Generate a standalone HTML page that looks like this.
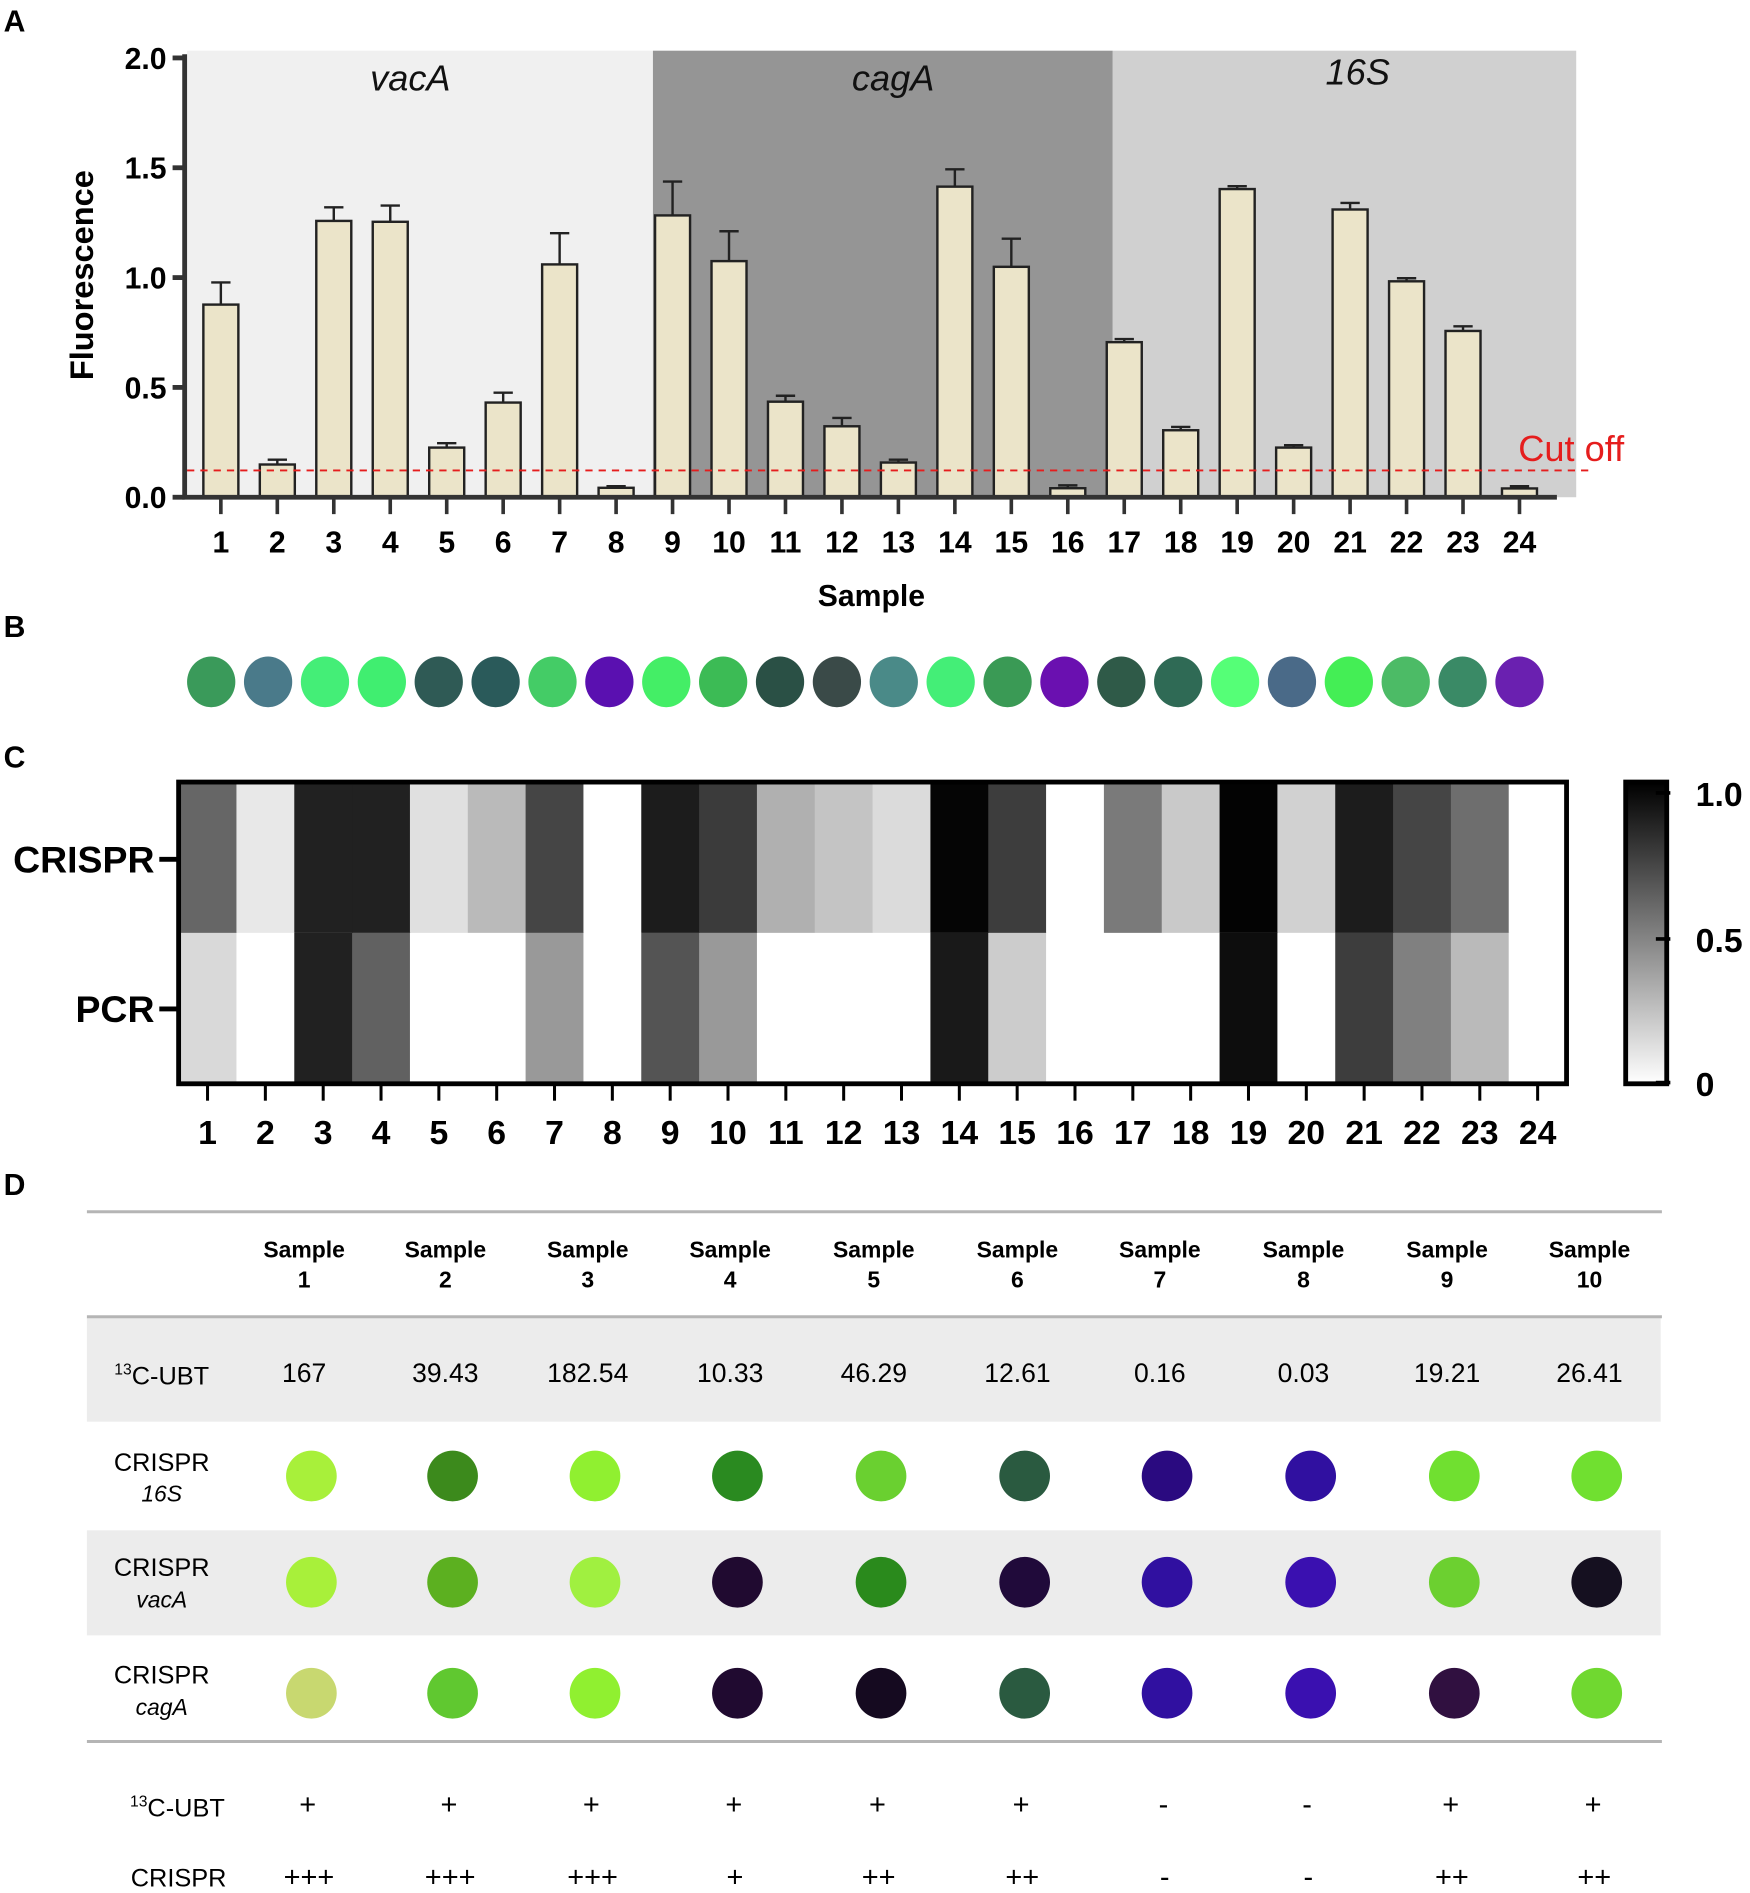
<!DOCTYPE html>
<html><head><meta charset="utf-8"><style>
html,body{margin:0;padding:0;background:#fff;}
svg{display:block;font-family:"Liberation Sans",Arial,sans-serif;}
</style></head><body>
<svg id="fig" width="1750" height="1893" viewBox="0 0 1450 1568.5" preserveAspectRatio="none">
<g id="panelA"></g>
<g id="panelB"></g>
<g id="panelC"></g>
<g id="panelD"></g>
</svg>
<script>
const samples = ["1","2","3","4","5","6","7","8","9","10","11","12","13","14","15","16","17","18","19","20","21","22","23","24"];
const fluorescence = [0.877,0.149,1.258,1.254,0.226,0.431,1.06,0.043,1.283,1.075,0.435,0.323,0.158,1.414,1.049,0.041,0.706,0.305,1.403,0.226,1.31,0.983,0.757,0.04];
const errorTop = [0.978,0.171,1.32,1.328,0.246,0.476,1.202,0.05,1.437,1.211,0.462,0.361,0.171,1.493,1.177,0.054,0.72,0.32,1.416,0.237,1.34,0.997,0.778,0.05];
const cutoff = 0.122;
const yTicks = [0,0.5,1.0,1.5,2.0];
const yTickLabels = ["0.0","0.5","1.0","1.5","2.0"];
const genes = ["vacA","cagA","16S"];
const crisprHeat = [0.6,0.09,0.87,0.87,0.12,0.27,0.73,0,0.89,0.77,0.31,0.23,0.14,0.98,0.76,0,0.52,0.21,0.99,0.18,0.89,0.73,0.57,0];
const pcrHeat = [0.15,0,0.87,0.62,0,0,0.4,0,0.67,0.4,0,0,0,0.9,0.2,0,0,0,0.95,0,0.76,0.5,0.27,0];
const dotColorsB = ["#3a9a5a","#4a7a8a","#44ee77","#40ee70","#2f5a55","#2a5a5a","#44cc66","#5a10b0","#44ee66","#3cbb55","#2a5045","#3a4a48","#4a8a88","#44ee77","#3a9a55","#6a10b0","#2f5a48","#2f6a55","#55ff77","#4a6a88","#44ee55","#4cbb66","#3a8a66","#6a20b0"];
const tableSamples = ["1","2","3","4","5","6","7","8","9","10"];
const ubtValues = ["167","39.43","182.54","10.33","46.29","12.61","0.16","0.03","19.21","26.41"];
const dots16S = ["#a8f03a","#3c8a1c","#90f030","#2a8a20","#6ad030","#2a5a40","#2a0a80","#3010a0","#70e030","#70e030"];
const dotsVacA = ["#a8f03a","#5cb020","#a0f040","#200a30","#2a8a1c","#200a3a","#3010a0","#3a10b0","#6cd030","#151020"];
const dotsCagA = ["#c8d870","#60c830","#90f030","#200a30","#150a20","#2a5a40","#3010a0","#3a10b0","#301040","#70d830"];
const ubtResult = ["+","+","+","+","+","+","-","-","+","+"];
const crisprResult = ["+++","+++","+++","+","++","++","-","-","++","++"];

const NS="http://www.w3.org/2000/svg";
function mk(parent,tag,attrs,text){const e=document.createElementNS(NS,tag);for(const k in attrs)e.setAttribute(k,attrs[k]);if(text!==undefined)e.textContent=text;parent.appendChild(e);return e;}

// ---------- Panel A ----------
const A=document.getElementById('panelA');
const y0=412, yTop=48;
const yS=v=>y0-(y0-yTop)*v/2;
const xS=i=>183+i*(1259-183)/23;
let t=mk(A,'text',{x:3,y:26,'font-size':25,'font-weight':'bold'},'A');


const bands=[[155,541,'#f0f0f0',340,75],[541,922,'#959595',740,75],[922,1306,'#d0d0d0',1125,70]];
bands.forEach((b,i)=>{
  let r=mk(A,'rect',{x:b[0],y:42,width:b[1]-b[0],height:y0-42,fill:b[2]});
  
  
  let l=mk(A,'text',{x:b[3],y:b[4],'font-size':30,'font-style':'italic','text-anchor':'middle',fill:'#111'},genes[i]);
  
  
});
fluorescence.forEach((v,i)=>{
  const cx=xS(i);
  let e=mk(A,'path',{d:`M${cx} ${yS(v)}V${yS(errorTop[i])}M${cx-8} ${yS(errorTop[i])}H${cx+8}`,stroke:'#222','stroke-width':2,fill:'none'});
  
  
  let r=mk(A,'rect',{x:cx-14.5,y:yS(v),width:29,height:y0-yS(v),fill:'#ebe4c9',stroke:'#222','stroke-width':2});
  
  
  let tk=mk(A,'line',{x1:cx,x2:cx,y1:y0,y2:y0+14,stroke:'#333','stroke-width':3});
  
  
  let lb=mk(A,'text',{x:cx,y:458,'font-size':25,'font-weight':'bold','text-anchor':'middle'},samples[i]);
  
  
});
let cl=mk(A,'line',{x1:155,x2:1320,y1:yS(cutoff),y2:yS(cutoff),stroke:'#e51d1d','stroke-width':1.5,'stroke-dasharray':'6,5'});


let ct=mk(A,'text',{x:1258,y:382,'font-size':30,fill:'#e51d1d'},'Cut off');


let ax=mk(A,'path',{d:`M153 45V${y0+2}M151 ${y0}H1290`,stroke:'#333','stroke-width':4,fill:'none'});


yTicks.forEach((v,i)=>{
  let tk=mk(A,'line',{x1:143,x2:153,y1:yS(v),y2:yS(v),stroke:'#333','stroke-width':4});
  
  
  let lb=mk(A,'text',{x:138,y:yS(v)+9,'font-size':25,'font-weight':'bold','text-anchor':'end'},yTickLabels[i]);
  
  
});
let yt=mk(A,'text',{x:77,y:228,'font-size':27,'font-weight':'bold','text-anchor':'middle',transform:'rotate(-90 77 228)'},'Fluorescence');


let xt=mk(A,'text',{x:722,y:502,'font-size':25,'font-weight':'bold','text-anchor':'middle'},'Sample');



// ---------- Panel B ----------
const B=document.getElementById('panelB');
t=mk(B,'text',{x:3,y:528,'font-size':25,'font-weight':'bold'},'B');


dotColorsB.forEach((c,i)=>{
  const cx=175+i*(1259-175)/23;
  let d=mk(B,'ellipse',{cx:cx,cy:565,rx:20,ry:21,fill:c});
  
  
});

// ---------- Panel C ----------
const C=document.getElementById('panelC');
t=mk(C,'text',{x:3,y:636,'font-size':25,'font-weight':'bold'},'C');


const hx0=148,hx1=1298,hy0=648,hy1=898,hmid=773;
const cw=(hx1-hx0)/24;
const g=v=>{const k=Math.round(255*(1-v));return `rgb(${k},${k},${k})`;};
[[crisprHeat,hy0,hmid,'crispr'],[pcrHeat,hmid,hy1,'pcr']].forEach(row=>{
  row[0].forEach((v,i)=>{
    let r=mk(C,'rect',{x:hx0+i*cw,y:row[1],width:cw+0.5,height:row[2]-row[1],fill:g(v)});
    
    
  });
});
let hb=mk(C,'rect',{x:hx0,y:hy0,width:hx1-hx0,height:hy1-hy0,fill:'none',stroke:'#000','stroke-width':4});


samples.forEach((s,i)=>{
  const cx=hx0+(i+0.5)*cw;
  let tk=mk(C,'line',{x1:cx,x2:cx,y1:hy1,y2:hy1+14,stroke:'#000','stroke-width':2.5});
  
  
  let lb=mk(C,'text',{x:cx,y:948,'font-size':28,'font-weight':'bold','text-anchor':'middle'},s);
  
  
});
[['CRISPR',712],['PCR',836]].forEach(r=>{
  let lb=mk(C,'text',{x:128,y:r[1]+11,'font-size':31,'font-weight':'bold','text-anchor':'end'},r[0]);
  
  
  let tk=mk(C,'line',{x1:132,x2:148,y1:r[1],y2:r[1],stroke:'#000','stroke-width':4});
  
  
});
const defs=mk(document.getElementById('fig'),'defs',{});
const lg=mk(defs,'linearGradient',{id:'cbar',x1:0,y1:1,x2:0,y2:0});
mk(lg,'stop',{offset:0,'stop-color':'#fff'});
mk(lg,'stop',{offset:1,'stop-color':'#000'});
let cb=mk(C,'rect',{x:1347,y:648,width:34,height:250,fill:'url(#cbar)',stroke:'#000','stroke-width':4});


[['1.0',657],['0.5',778],['0',897]].forEach(c=>{
  let tk=mk(C,'line',{x1:1372,x2:1384,y1:c[1],y2:c[1],stroke:'#000','stroke-width':3});
  
  
  let lb=mk(C,'text',{x:1405,y:c[1]+11,'font-size':28,'font-weight':'bold'},c[0]);
  
  
});

// ---------- Panel D ----------
const D=document.getElementById('panelD');
t=mk(D,'text',{x:3,y:990,'font-size':25,'font-weight':'bold'},'D');


const colX=[252,369,487,605,724,843,961,1080,1199,1317];
[[1092,1178],[1268,1355]].forEach(b=>{
  let r=mk(D,'rect',{x:72,y:b[0],width:1304,height:b[1]-b[0],fill:'#ececec'});
  
  
});
[1004,1091,1443].forEach(y=>{
  let l=mk(D,'line',{x1:72,x2:1377,y1:y,y2:y,stroke:'#b5b5b5','stroke-width':2.5});
  
  
});
tableSamples.forEach((s,i)=>{
  let h=mk(D,'text',{x:colX[i],y:1042,'font-size':19,'font-weight':'bold','text-anchor':'middle'},'Sample');
  
  
  let h2=mk(D,'text',{x:colX[i],y:1067,'font-size':19,'font-weight':'bold','text-anchor':'middle'},s);
  
  
  let v=mk(D,'text',{x:colX[i],y:1145,'font-size':22,'text-anchor':'middle'},ubtValues[i]);
  
  
  [[dots16S,1223],[dotsVacA,1311],[dotsCagA,1403]].forEach(r=>{
    let d=mk(D,'ellipse',{cx:colX[i]+6,cy:r[1],rx:21,ry:21,fill:r[0][i]});
    
    
  });
  let p=mk(D,'text',{x:colX[i]+3,y:1503,'font-size':24,'text-anchor':'middle'},ubtResult[i]);
  
  
  let q=mk(D,'text',{x:colX[i]+4,y:1563,'font-size':24,'text-anchor':'middle'},crisprResult[i]);
  
  
});
function rowLabel(y1,y2,sub,x){
  const tx=mk(D,'text',{x:x,y:y1,'font-size':21,'text-anchor':'middle'});
  
  
  tx.innerHTML=sub;
  if(y2){let s=mk(D,'text',{x:x,y:y2,'font-size':19,'font-style':'italic','text-anchor':'middle'},y2[1]);
  
  
  s.setAttribute('y',y2[0]);}
}
rowLabel(1147,null,'<tspan font-size="13" dy="-8">13</tspan><tspan dy="8">C-UBT</tspan>',134);
rowLabel(1219,[1244,'16S'],'CRISPR',134);
rowLabel(1306,[1332,'vacA'],'CRISPR',134);
rowLabel(1395,[1421,'cagA'],'CRISPR',134);
rowLabel(1505,null,'<tspan font-size="13" dy="-8">13</tspan><tspan dy="8">C-UBT</tspan>',147);
rowLabel(1563,null,'CRISPR',148);
</script>
</body></html>
